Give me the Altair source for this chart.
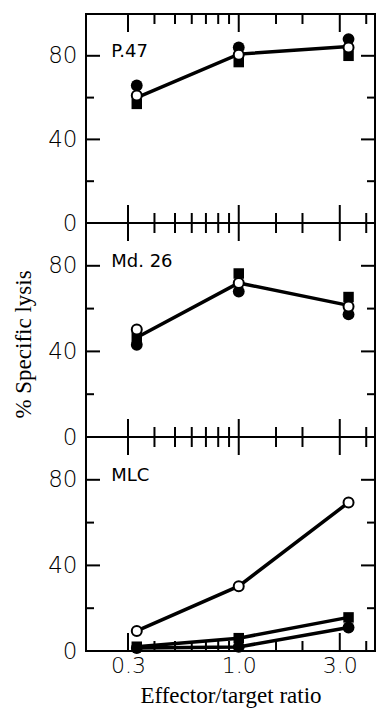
import altair as alt
import pandas as pd

# ---- data ----
ratios = [0.33, 1.0, 3.3]

p47_filled_circle = [65.8, 84.0, 88.0]
p47_open_circle = [61.0, 80.5, 84.0]
p47_filled_square = [57.0, 77.0, 80.0]
p47_line = [60.0, 80.8, 84.5]

md26_filled_circle = [43.1, 68.0, 57.3]
md26_open_circle = [50.2, 72.0, 61.0]
md26_filled_square = [46.5, 76.4, 65.4]
md26_line = [46.5, 72.0, 61.5]

mlc_filled_circle = [1.4, 1.9, 11.0]
mlc_open_circle = [9.4, 30.3, 69.4]
mlc_filled_square = [2.0, 6.0, 15.7]

panel_names = ["P.47", "Md. 26", "MLC"]
panel_label_x = [0.25]
panel_label_y = [82]

major_x_ticks = [0.3, 1.0, 3.0]
minor_x_ticks = [0.4, 0.5, 0.6, 0.7, 0.8, 0.9, 1.5, 2.0, 4.0]
major_y_ticks = [40, 80]
minor_y_ticks = [20, 60]
y_label_values = [0, 40, 80]

# ---- layout / style ----
W = 289
X_DOMAIN = [0.19, 4.4]
Y_DOMAIN = [0, 100]
SANS = "DejaVu Sans"
SERIF = "Liberation Serif"

xscale = alt.Scale(type="log", domain=X_DOMAIN, nice=False)
yscale = alt.Scale(domain=Y_DOMAIN, nice=False, zero=True)


def make_panel(name, fc, oc, fs, lines, height, show_x, ytitle, title_y=None):
    if show_x:
        xaxis = alt.Axis(values=major_x_ticks, format=".1f", ticks=False, domain=False,
                         grid=False, labelFont=SANS, labelFontSize=22, labelPadding=4,
                         labelColor="black", labelFontWeight=300,
                         title="Effector/target ratio", titleFont=SERIF, titleFontSize=23,
                         titleFontWeight="normal", titleColor="black", titlePadding=8)
    else:
        xaxis = None
    yax_kwargs = dict(values=y_label_values, ticks=False, domain=False, grid=False,
                      labelFont=SANS, labelFontSize=23, labelPadding=9, labelColor="black",
                      labelFontWeight=300)
    if ytitle:
        yax_kwargs.update(title=ytitle, titleFont=SERIF, titleFontSize=23,
                          titleFontWeight="normal", titleColor="black", titlePadding=12)
        if title_y is not None:
            yax_kwargs["titleY"] = title_y
    else:
        yax_kwargs["title"] = None
    yaxis = alt.Axis(**yax_kwargs)

    X = lambda f: alt.X(f, scale=xscale, axis=xaxis)
    Y = lambda f: alt.Y(f, scale=yscale, axis=yaxis)

    layers = []
    # panel frame
    frame = pd.DataFrame({"a": [0]})
    layers.append(alt.Chart(frame).mark_rect(fill=None, stroke="black", strokeWidth=2).encode(
        x=alt.value(0), x2=alt.value(W), y=alt.value(0), y2=alt.value(height)))
    # x ticks (bottom pointing up, top pointing down)
    maj = pd.DataFrame({"v": major_x_ticks})
    mnr = pd.DataFrame({"v": minor_x_ticks})
    for df, ln in ((maj, 18), (mnr, 10)):
        layers.append(alt.Chart(df).mark_rule(color="black", strokeWidth=2).encode(
            x=X("v:Q"), y=alt.value(height), y2=alt.value(height - ln)))
        layers.append(alt.Chart(df).mark_rule(color="black", strokeWidth=2).encode(
            x=X("v:Q"), y=alt.value(0), y2=alt.value(ln)))
    # y ticks (left and right, inward)
    ymaj = pd.DataFrame({"v": major_y_ticks})
    ymin = pd.DataFrame({"v": minor_y_ticks})
    for df, ln in ((ymaj, 14), (ymin, 8)):
        layers.append(alt.Chart(df).mark_rule(color="black", strokeWidth=2).encode(
            y=Y("v:Q"), x=alt.value(0), x2=alt.value(ln)))
        layers.append(alt.Chart(df).mark_rule(color="black", strokeWidth=2).encode(
            y=Y("v:Q"), x=alt.value(W - ln), x2=alt.value(W)))

    # lines
    for vals in lines:
        d = pd.DataFrame({"r": ratios, "v": vals})
        layers.append(alt.Chart(d).mark_line(color="black", strokeWidth=3.5).encode(
            x=X("r:Q"), y=Y("v:Q")))

    # markers
    dfc = pd.DataFrame({"r": ratios, "v": fc})
    dfs = pd.DataFrame({"r": ratios, "v": fs})
    doc = pd.DataFrame({"r": ratios, "v": oc})
    layers.append(alt.Chart(dfc).mark_point(shape="circle", filled=True, color="black",
                                            opacity=1, size=140).encode(x=X("r:Q"), y=Y("v:Q")))
    layers.append(alt.Chart(dfs).mark_point(shape="square", filled=True, color="black",
                                            opacity=1, size=110).encode(x=X("r:Q"), y=Y("v:Q")))
    layers.append(alt.Chart(doc).mark_point(shape="circle", filled=True, fill="white",
                                            stroke="black", strokeWidth=2, opacity=1,
                                            size=100).encode(x=X("r:Q"), y=Y("v:Q")))

    # panel label
    lab = pd.DataFrame({"r": panel_label_x, "v": panel_label_y, "t": [name]})
    layers.append(alt.Chart(lab).mark_text(align="left", baseline="middle", font=SANS,
                                           fontSize=18, color="black").encode(
        x=X("r:Q"), y=Y("v:Q"), text="t:N"))

    return alt.layer(*layers).properties(width=W, height=height)


p1 = make_panel(panel_names[0], p47_filled_circle, p47_open_circle, p47_filled_square,
                [p47_line], 209, False, None)
p2 = make_panel(panel_names[1], md26_filled_circle, md26_open_circle, md26_filled_square,
                [md26_line], 214, False, "% Specific lysis", title_y=121)
p3 = make_panel(panel_names[2], mlc_filled_circle, mlc_open_circle, mlc_filled_square,
                [mlc_open_circle, mlc_filled_square, mlc_filled_circle], 214, True, None)

chart = alt.vconcat(p1, p2, p3, spacing=0, bounds="flush").properties(
    padding={"left": 4, "top": 4, "right": 0, "bottom": 0}
).configure_view(stroke=None).configure(background="white")

chart.save("out.html", embed_options={"renderer": "svg", "actions": False})
